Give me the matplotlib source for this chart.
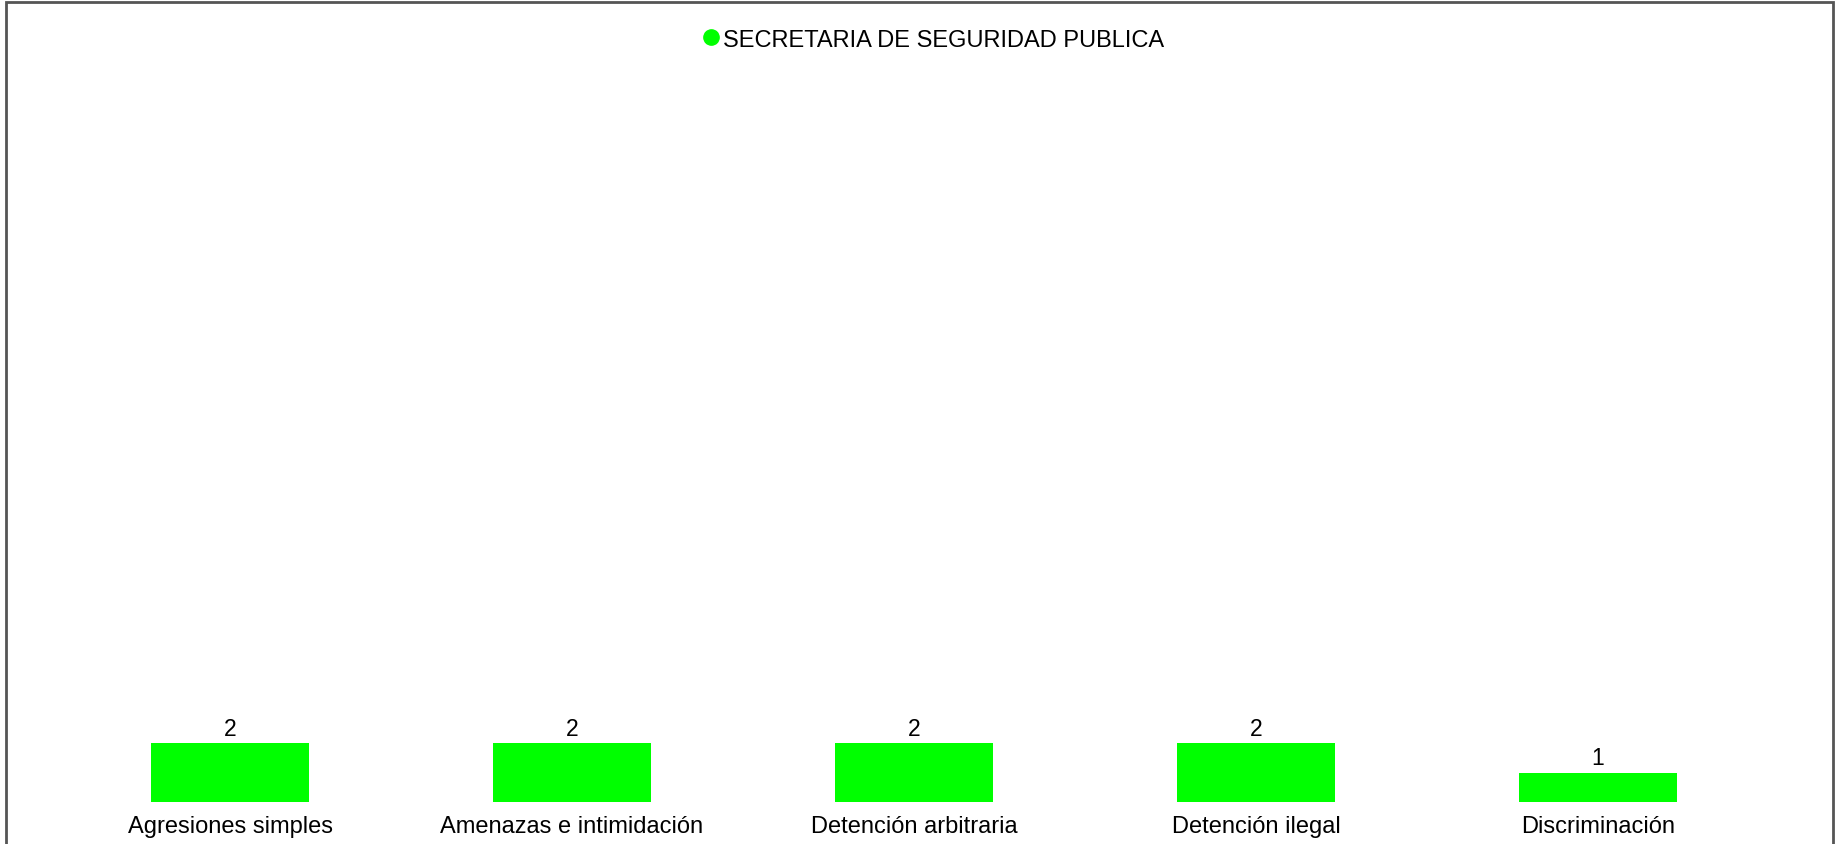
import matplotlib.pyplot as plt
from matplotlib.patches import Rectangle
from matplotlib.lines import Line2D

plt.rcParams['font.family'] = ['Liberation Sans', 'DejaVu Sans']

categorias = ['Agresiones simples', 'Amenazas e intimidación', 'Detención arbitraria',
              'Detención ilegal', 'Discriminación']
valores = [2, 2, 2, 2, 1]
serie = 'SECRETARIA DE SEGURIDAD PUBLICA'
verde = '#00ff00'

W, H = 1839, 845
fig = plt.figure(figsize=(W / 100, H / 100), dpi=100)

# area del grafico en pixeles
x0, x1 = 59, 1769
y0 = 803
ymax = 25
alto = ymax * 29.5
ax = fig.add_axes([x0 / W, (H - y0) / H, (x1 - x0) / W, alto / H])

pos = range(len(categorias))
barras = ax.bar(pos, valores, width=0.46, color=verde)
for b, v in zip(barras, valores):
    ax.annotate(str(v), xy=(b.get_x() + b.get_width() / 2, v), xytext=(0, 2.5),
                textcoords='offset points', ha='center', va='bottom', fontsize=16.5)

ax.set_xlim(-0.5, len(categorias) - 0.5)
ax.set_ylim(0, ymax)
ax.set_xticks(list(pos))
ax.set_xticklabels(categorias, fontsize=17)
ax.tick_params(axis='x', length=0, pad=9.5)
ax.set_yticks([])
for s in ax.spines.values():
    s.set_visible(False)

marcador = Line2D([], [], marker='o', color='none', markerfacecolor=verde,
                  markeredgecolor=verde, markersize=11)
fig.legend([marcador], [serie], loc='upper center', bbox_to_anchor=(0.507, 0.99),
           frameon=False, fontsize=17, handletextpad=0.05, handlelength=0.9)

# marco exterior
fig.patches.append(Rectangle((6 / W, -0.05), (1833 - 6) / W, 1.05 - 3 / H,
                             transform=fig.transFigure, fill=False,
                             edgecolor='#555555', linewidth=2))

fig.savefig('out.png', dpi=100)
